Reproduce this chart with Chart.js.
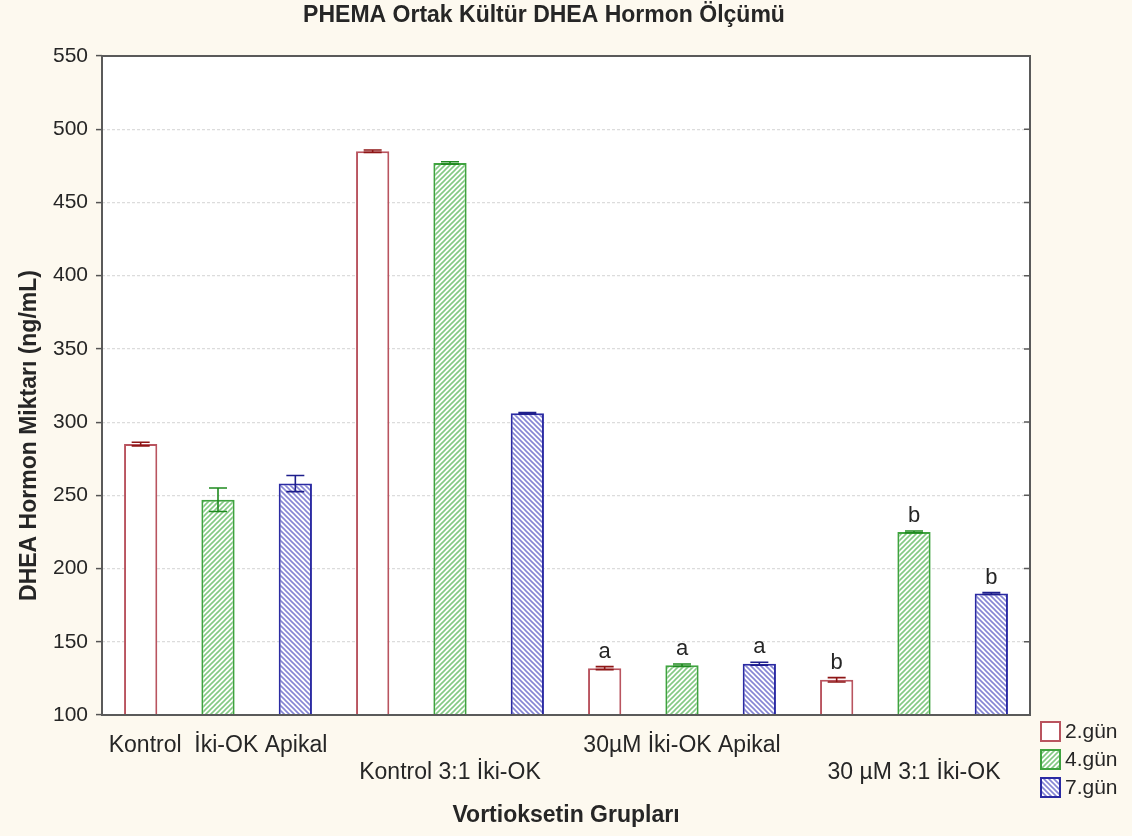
<!DOCTYPE html>
<html>
<head>
<meta charset="utf-8">
<script src="https://cdn.jsdelivr.net/npm/chart.js@4.4.1/dist/chart.umd.min.js"></script>
<style>
  html, body { margin: 0; padding: 0; background: #fdf9ef; }
  #wrap { width: 1132px; height: 836px; position: relative; }
</style>
</head>
<body>
<div id="wrap"><canvas id="c" width="1132" height="836"></canvas></div>
<script>
// ---- data ----
const chartTitle = 'PHEMA Ortak Kültür DHEA Hormon Ölçümü';
const groups = ['Kontrol  İki-OK Apikal', 'Kontrol 3:1 İki-OK', '30µM İki-OK Apikal', '30 µM 3:1 İki-OK'];
const seriesNames = ['2.gün', '4.gün', '7.gün'];
const day2 = [285, 485, 132, 124];
const day4 = [247, 477, 134, 225];
const day7 = [258, 306, 135, 183];
const err2 = [1.2, 0.8, 1.0, 1.5];
const err4 = [8, 0.8, 0.8, 0.6];
const err7 = [5.5, 0.5, 1.0, 0.6];
const letters2 = ['', '', 'a', 'b'];
const letters4 = ['', '', 'a', 'b'];
const letters7 = ['', '', 'a', 'b'];
const yTicks = [100, 150, 200, 250, 300, 350, 400, 450, 500, 550];
const yTitle = 'DHEA Hormon Miktarı (ng/mL)';
const xTitle = 'Vortioksetin Grupları';

// ---- build category slots (3 bars per group) ----
const nSeries = 3;
const labels = [];
for (let g = 0; g < groups.length; g++) {
  for (let s = 0; s < nSeries; s++) {
    if (s === 1) labels.push(g % 2 === 0 ? [groups[g], ''] : ['', groups[g]]);
    else labels.push('');
  }
}
function spread(vals, s) {
  const out = new Array(groups.length * nSeries).fill(null);
  vals.forEach((v, g) => { out[g * nSeries + s] = v; });
  return out;
}

// ---- hatch patterns ----
function hatch(lineColor, dir) {
  const s = 5;
  const c = document.createElement('canvas');
  c.width = s; c.height = s;
  const x = c.getContext('2d');
  x.fillStyle = '#ffffff';
  x.fillRect(0, 0, s, s);
  x.strokeStyle = lineColor;
  x.lineWidth = 1.6;
  x.beginPath();
  if (dir === '/') {
    x.moveTo(0, s); x.lineTo(s, 0);
    x.moveTo(-1, 1); x.lineTo(1, -1);
    x.moveTo(s - 1, s + 1); x.lineTo(s + 1, s - 1);
  } else {
    x.moveTo(0, 0); x.lineTo(s, s);
    x.moveTo(-1, s - 1); x.lineTo(1, s + 1);
    x.moveTo(s - 1, -1); x.lineTo(s + 1, 1);
  }
  x.stroke();
  return x.createPattern(c, 'repeat');
}
const ctx = document.getElementById('c').getContext('2d');
const fills = ['#ffffff', hatch('#84c984', '/'), hatch('#8686d4', '\\')];
const borders = ['#b9545f', '#3fa33f', '#2b2ba3'];
const errColors = ['#8e1616', '#1f8a1f', '#1e1e8c'];
const vals = [day2, day4, day7];
const errs = [err2, err4, err7];
const letters = [letters2, letters4, letters7];

const datasets = vals.map((v, s) => ({
  label: seriesNames[s],
  data: spread(v, s),
  errors: spread(errs[s], s),
  letters: spread(letters[s], s),
  backgroundColor: fills[s],
  borderColor: borders[s],
  borderWidth: 2,
  borderSkipped: 'bottom',
  errColor: errColors[s]
}));

const FONT = "'Liberation Sans', Arial, sans-serif";
const TEXT = '#262626';

const bgPlugin = {
  id: 'bg',
  beforeDraw(chart) {
    const c = chart.ctx, a = chart.chartArea;
    c.save();
    c.fillStyle = '#fdf9ef';
    c.fillRect(0, 0, chart.width, chart.height);
    c.fillStyle = '#ffffff';
    c.fillRect(a.left, a.top, a.right - a.left, a.bottom - a.top);
    c.restore();
  }
};

const errPlugin = {
  id: 'errbars',
  afterDatasetsDraw(chart) {
    const c = chart.ctx, y = chart.scales.y;
    chart.data.datasets.forEach((ds, di) => {
      const meta = chart.getDatasetMeta(di);
      meta.data.forEach((bar, i) => {
        const v = ds.data[i];
        if (v === null) return;
        const e = ds.errors[i] || 0;
        const yt = y.getPixelForValue(v + e), yb = y.getPixelForValue(v - e);
        const x = bar.x, hw = 9;
        c.save();
        c.strokeStyle = ds.errColor;
        c.lineWidth = 1.6;
        c.beginPath();
        c.moveTo(x, yt); c.lineTo(x, yb);
        c.moveTo(x - hw, yt); c.lineTo(x + hw, yt);
        c.moveTo(x - hw, yb); c.lineTo(x + hw, yb);
        c.stroke();
        const L = ds.letters[i];
        if (L) {
          c.fillStyle = TEXT;
          c.font = '22px ' + FONT;
          c.textAlign = 'center';
          c.textBaseline = 'alphabetic';
          c.fillText(L, x, yt - 9);
        }
        c.restore();
      });
    });
  }
};

const framePlugin = {
  id: 'frame',
  afterDraw(chart) {
    const c = chart.ctx, a = chart.chartArea;
    c.save();
    c.strokeStyle = '#5a5a5a';
    c.lineWidth = 2;
    c.strokeRect(a.left, a.top, a.right - a.left, a.bottom - a.top);
    // inner ticks on right side
    const y = chart.scales.y;
    c.lineWidth = 1.5;
    c.beginPath();
    yTicks.forEach(t => {
      const py = y.getPixelForValue(t);
      c.moveTo(a.right, py); c.lineTo(a.right - 6, py);
    });
    c.stroke();
    // title
    c.fillStyle = TEXT;
    c.font = 'bold 23px ' + FONT;
    c.textAlign = 'center';
    c.textBaseline = 'middle';
    c.fillText(chartTitle, (a.left + a.right) / 2 - 22, 16);
    // y axis title (sits a little below the plot's middle, as in the source)
    c.save();
    c.translate(30, (a.top + a.bottom) / 2 + 50);
    c.rotate(-Math.PI / 2);
    c.font = 'bold 23px ' + FONT;
    c.fillText(yTitle, 0, 0);
    c.restore();
    // legend
    const lx = a.right + 11;
    let ly = a.bottom + 7;
    c.font = '21px ' + FONT;
    c.textAlign = 'left';
    chart.data.datasets.forEach(ds => {
      c.fillStyle = ds.backgroundColor;
      c.fillRect(lx, ly, 19, 19);
      c.strokeStyle = ds.borderColor;
      c.lineWidth = 2;
      c.strokeRect(lx, ly, 19, 19);
      c.fillStyle = TEXT;
      c.fillText(ds.label, lx + 24, ly + 10);
      ly += 28;
    });
    c.restore();
  }
};

new Chart(ctx, {
  type: 'bar',
  data: { labels, datasets },
  options: {
    responsive: false,
    animation: false,
    layout: { padding: { top: 56, right: 102, left: 0, bottom: 0 } },
    datasets: { bar: { grouped: false, categoryPercentage: 1, barPercentage: 0.43 } },
    plugins: { legend: { display: false }, title: { display: false }, tooltip: { enabled: false } },
    scales: {
      x: {
        afterFit(s) { s.height = 121; },
        grid: { display: false },
        border: { display: false },
        ticks: {
          autoSkip: false, maxRotation: 0, minRotation: 0,
          color: TEXT, padding: 9,
          font: { family: "'Liberation Sans Narrow', 'Liberation Sans', Arial, sans-serif", size: 23, lineHeight: 1.17 }
        },
        title: {
          display: true, text: xTitle, color: TEXT,
          font: { family: FONT, size: 23, weight: 'bold' },
          padding: { top: 0, bottom: 7 }
        }
      },
      y: {
        min: 100, max: 550,
        afterFit(s) { s.width = 102; },
        afterBuildTicks(s) { s.ticks = yTicks.map(v => ({ value: v })); },
        grid: {
          color: '#dcdcdc', lineWidth: 1.2,
          tickLength: 6, tickColor: '#555555', tickWidth: 1.5, tickBorderDash: []
        },
        border: { display: false, dash: [3, 2] },
        ticks: {
          color: TEXT, padding: 8,
          font: { family: FONT, size: 21 }
        },
        title: { display: false }
      }
    }
  },
  plugins: [bgPlugin, errPlugin, framePlugin]
});
</script>
</body>
</html>
